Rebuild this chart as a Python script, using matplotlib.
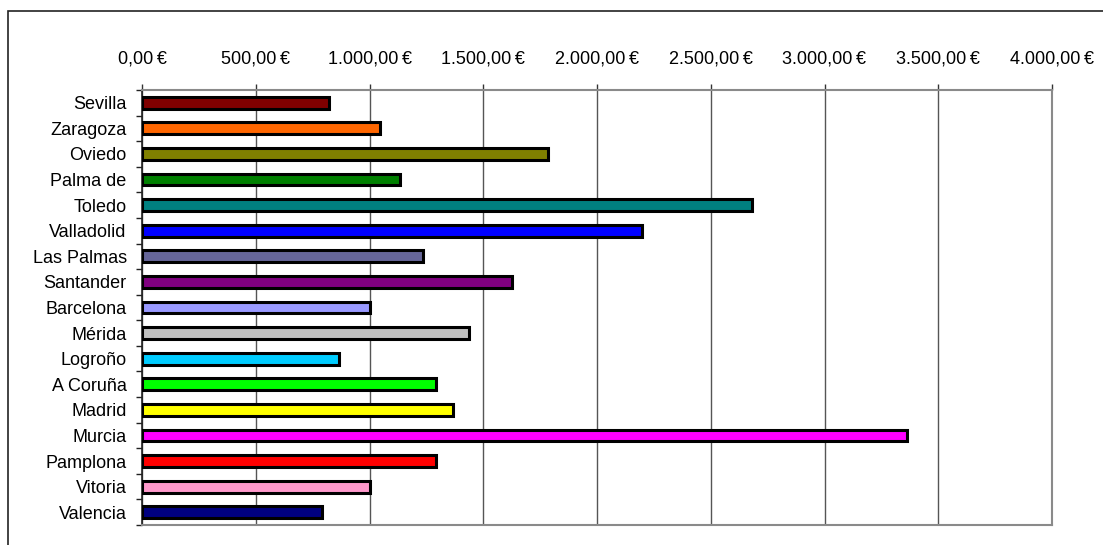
import matplotlib.pyplot as plt
import numpy as np
from matplotlib.patches import Rectangle
from matplotlib.ticker import FuncFormatter, MultipleLocator

plt.rcParams["font.family"] = ["Liberation Sans", "DejaVu Sans"]

cities = [
    "Sevilla", "Zaragoza", "Oviedo", "Palma de", "Toledo", "Valladolid",
    "Las Palmas", "Santander", "Barcelona", "Mérida", "Logroño", "A Coruña",
    "Madrid", "Murcia", "Pamplona", "Vitoria", "Valencia",
]
values = [
    823, 1046, 1786, 1134, 2680, 2199, 1237, 1628, 1002, 1437, 867, 1292,
    1369, 3361, 1292, 1002, 790,
]
colors = [
    "#800000", "#FF6600", "#808000", "#008000", "#008080", "#0000FF",
    "#666699", "#800080", "#9999FF", "#C0C0C0", "#00CCFF", "#00FF00",
    "#FFFF00", "#FF00FF", "#FF0000", "#FF99CC", "#000080",
]


def euro(x, pos):
    s = f"{x:,.2f}".replace(",", "X").replace(".", ",").replace("X", ".")
    return s + "\u2009€"


W, H = 1103, 545
fig = plt.figure(figsize=(W / 100, H / 100), dpi=100)
ax = fig.add_axes([142 / W, 1 - 525 / H, 910 / W, 435 / H])

# outer chart frame (clipped at right/bottom like the original)
fig.patches.append(Rectangle((8 / W, -0.1), 1.2, 1 - 11 / H + 0.1,
                             transform=fig.transFigure, fill=False,
                             edgecolor="#222222", linewidth=1.2))

y = np.arange(len(cities))
ax.barh(y, values, height=0.46, color=colors, edgecolor="black",
        linewidth=2.2, zorder=3)

ax.set_xlim(0, 4000)
ax.set_ylim(len(cities) - 0.5, -0.5)
ax.xaxis.set_major_locator(MultipleLocator(500))
ax.xaxis.set_major_formatter(FuncFormatter(euro))
ax.xaxis.tick_top()
ax.tick_params(axis="x", which="major", length=4, width=1, color="#333333",
               pad=12, labelsize=13)
ax.grid(axis="x", color="#555555", linewidth=1, zorder=1)

ax.set_yticks(y)
ax.set_yticklabels(cities)
ax.set_yticks(np.arange(-0.5, len(cities)), minor=True)
ax.tick_params(axis="y", which="major", length=0, pad=11, labelsize=13)
ax.tick_params(axis="y", which="minor", length=4, width=1, color="#222222")

for side in ("top", "right", "bottom"):
    ax.spines[side].set_color("#8a8a8a")
    ax.spines[side].set_linewidth(1.5)
ax.spines["left"].set_color("#222222")
ax.spines["left"].set_linewidth(1.2)

fig.savefig("out.png", dpi=100)
